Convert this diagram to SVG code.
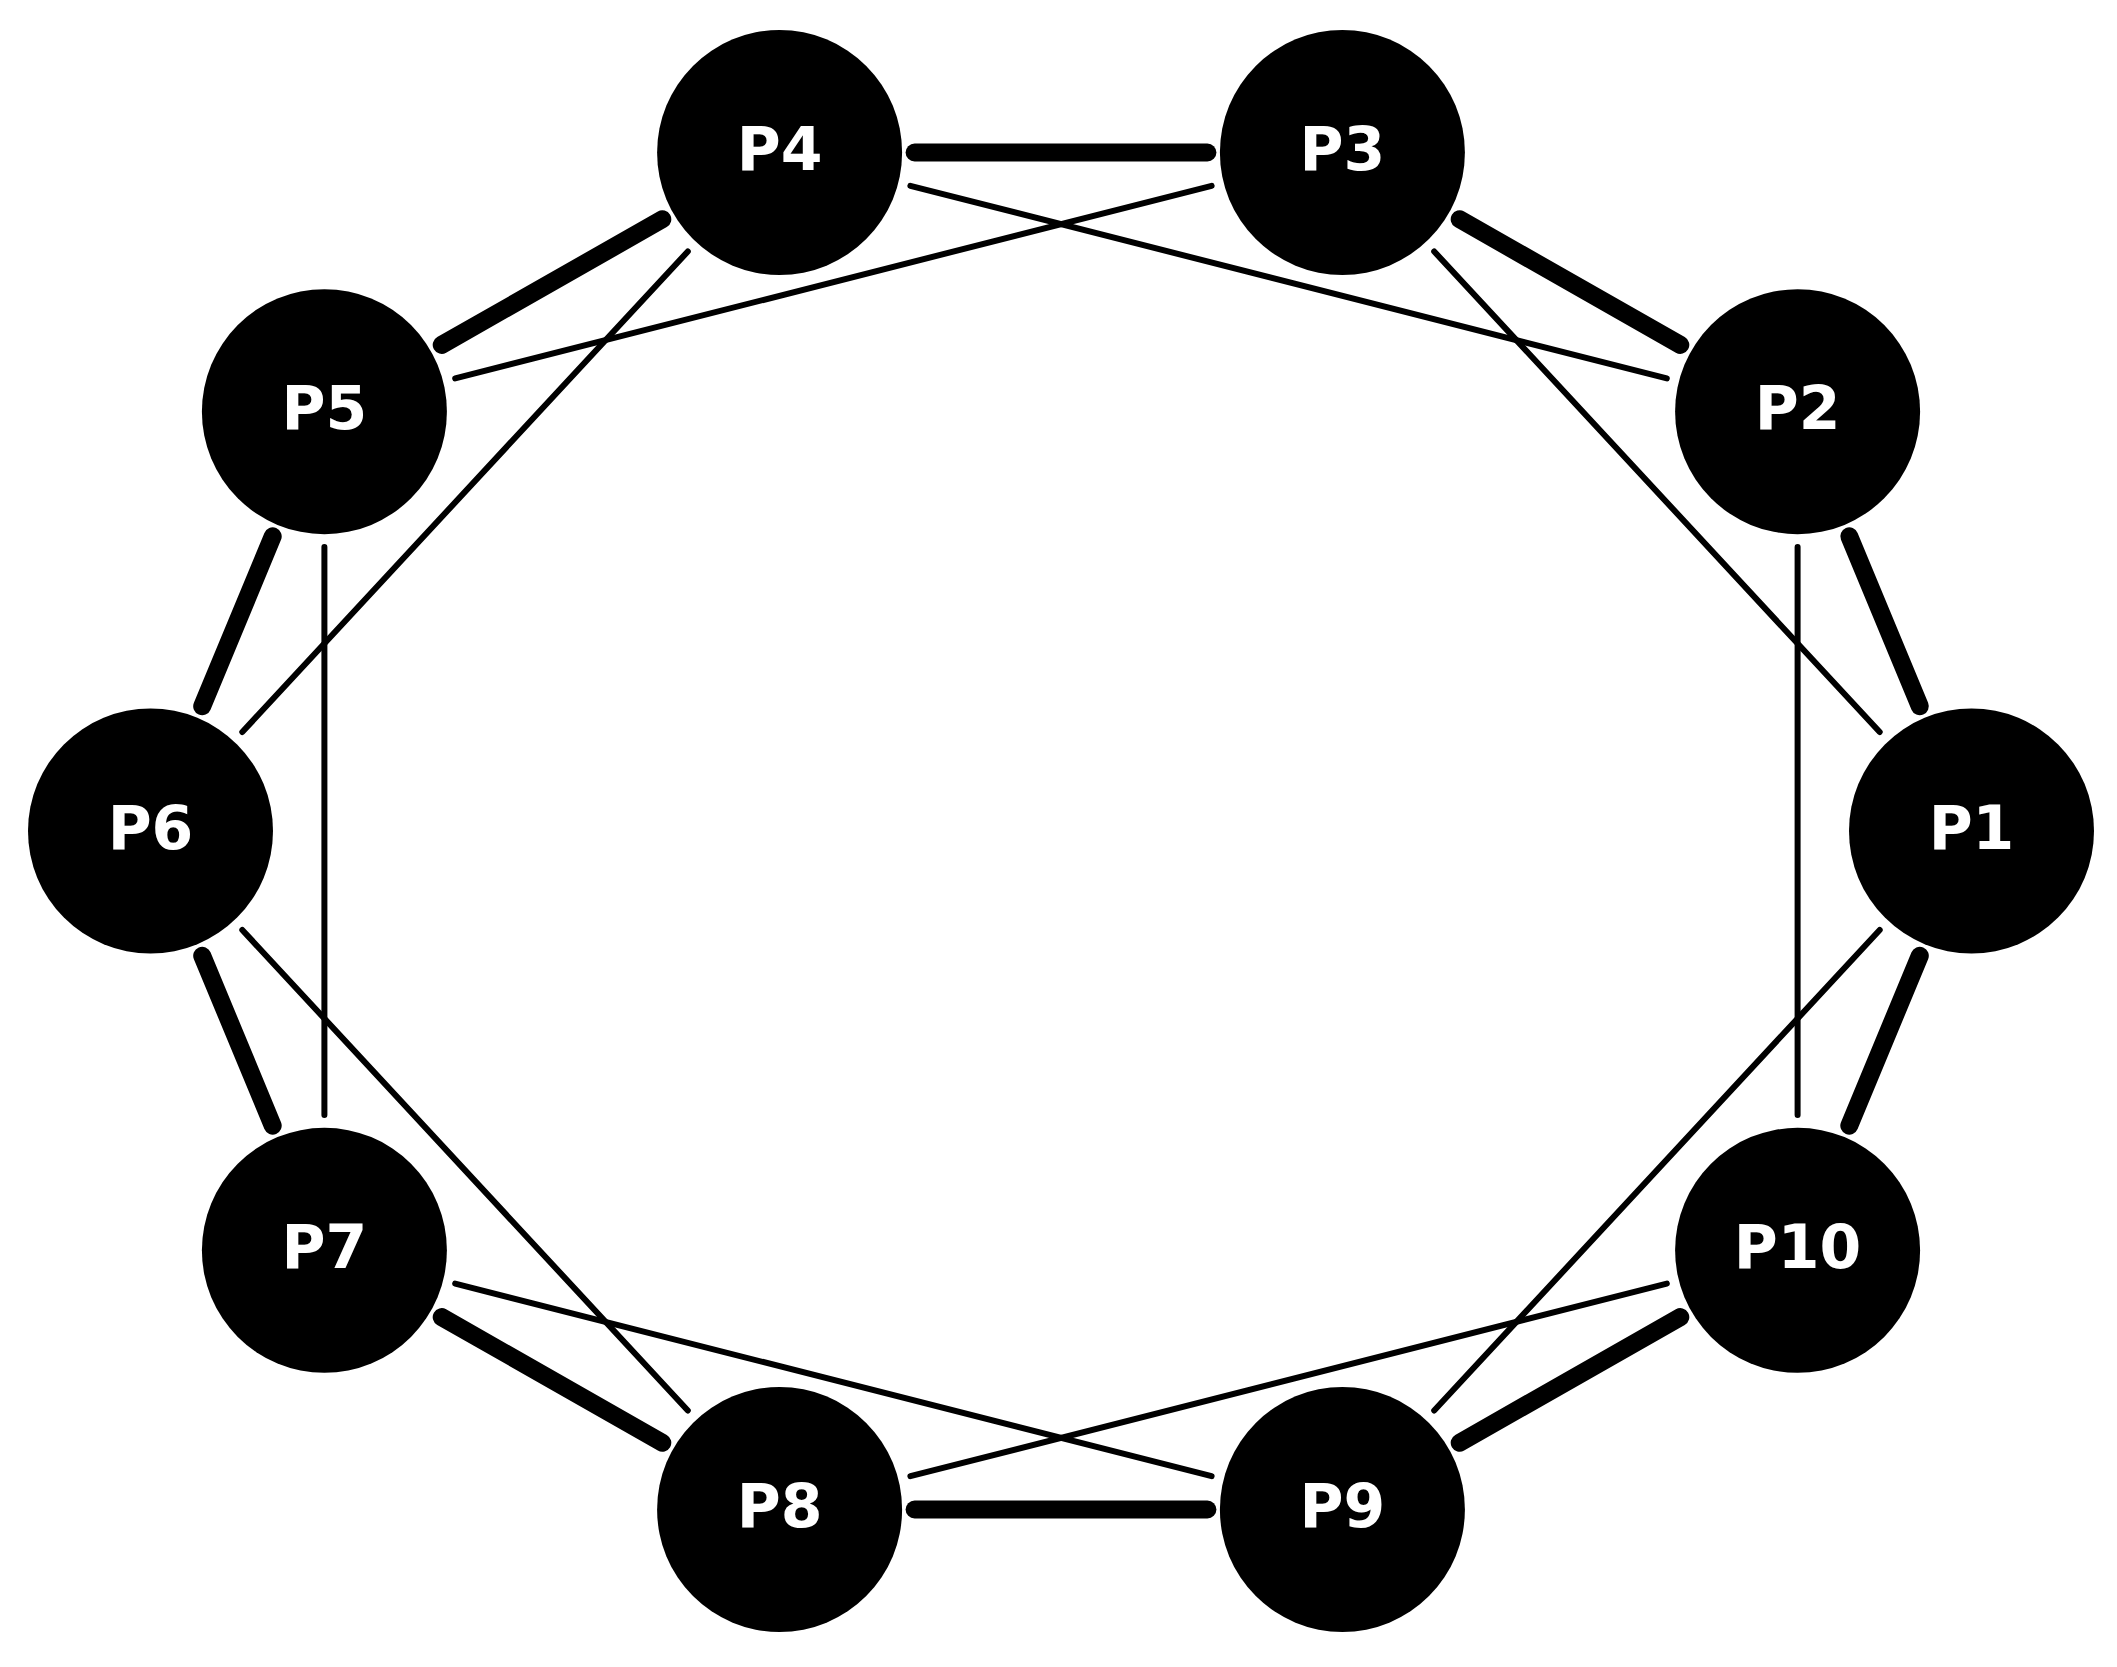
<svg xmlns="http://www.w3.org/2000/svg" width="2117" height="1667" viewBox="0 0 2117 1667">
<style>
.n{fill:#000}
.t{fill:#fff;font-family:"DejaVu Sans",sans-serif;font-weight:bold;font-size:60px;text-anchor:middle}
.thick{stroke:#000;stroke-width:18;stroke-linecap:round}
.thin{stroke:#000;stroke-width:6;stroke-linecap:round}
</style>
<rect width="2117" height="1667" fill="#fff"/>
<g id="connectors">
<line class="thick" x1="1919.8" y1="706.3" x2="1849.3" y2="536.4"/>
<line class="thick" x1="1680.3" y1="344.9" x2="1459.7" y2="219.3"/>
<line class="thick" x1="1207.4" y1="152.5" x2="914.6" y2="152.5"/>
<line class="thick" x1="662.3" y1="219.3" x2="441.7" y2="344.9"/>
<line class="thick" x1="272.7" y1="536.4" x2="202.2" y2="706.3"/>
<line class="thick" x1="202.2" y1="955.7" x2="272.7" y2="1125.6"/>
<line class="thick" x1="441.7" y1="1317.1" x2="662.3" y2="1442.7"/>
<line class="thick" x1="914.6" y1="1509.5" x2="1207.4" y2="1509.5"/>
<line class="thick" x1="1459.7" y1="1442.7" x2="1680.3" y2="1317.1"/>
<line class="thick" x1="1849.3" y1="1125.6" x2="1919.8" y2="955.7"/>
<line class="thin" x1="1879.7" y1="732.0" x2="1434.2" y2="251.5"/>
<line class="thin" x1="1666.8" y1="378.4" x2="910.4" y2="185.8"/>
<line class="thin" x1="1211.6" y1="185.8" x2="455.2" y2="378.4"/>
<line class="thin" x1="687.8" y1="251.5" x2="242.3" y2="732.0"/>
<line class="thin" x1="324.4" y1="546.9" x2="324.4" y2="1115.1"/>
<line class="thin" x1="242.3" y1="930.0" x2="687.8" y2="1410.5"/>
<line class="thin" x1="455.2" y1="1283.6" x2="1211.6" y2="1476.2"/>
<line class="thin" x1="910.4" y1="1476.2" x2="1666.8" y2="1283.6"/>
<line class="thin" x1="1434.2" y1="1410.5" x2="1879.7" y2="930.0"/>
<line class="thin" x1="1797.6" y1="1115.1" x2="1797.6" y2="546.9"/>
</g>
<g id="P1"><circle class="n" cx="1971.5" cy="831" r="122.5"/><text class="t" x="1971.5" y="848.5">P1</text></g>
<g id="P2"><circle class="n" cx="1797.6" cy="411.7" r="122.5"/><text class="t" x="1797.6" y="429.2">P2</text></g>
<g id="P3"><circle class="n" cx="1342.4" cy="152.5" r="122.5"/><text class="t" x="1342.4" y="170">P3</text></g>
<g id="P4"><circle class="n" cx="779.6" cy="152.5" r="122.5"/><text class="t" x="779.6" y="170">P4</text></g>
<g id="P5"><circle class="n" cx="324.4" cy="411.7" r="122.5"/><text class="t" x="324.4" y="429.2">P5</text></g>
<g id="P6"><circle class="n" cx="150.5" cy="831" r="122.5"/><text class="t" x="150.5" y="848.5">P6</text></g>
<g id="P7"><circle class="n" cx="324.4" cy="1250.3" r="122.5"/><text class="t" x="324.4" y="1267.8">P7</text></g>
<g id="P8"><circle class="n" cx="779.6" cy="1509.5" r="122.5"/><text class="t" x="779.6" y="1527">P8</text></g>
<g id="P9"><circle class="n" cx="1342.4" cy="1509.5" r="122.5"/><text class="t" x="1342.4" y="1527">P9</text></g>
<g id="P10"><circle class="n" cx="1797.6" cy="1250.3" r="122.5"/><text class="t" x="1797.6" y="1267.8">P10</text></g>
</svg>
